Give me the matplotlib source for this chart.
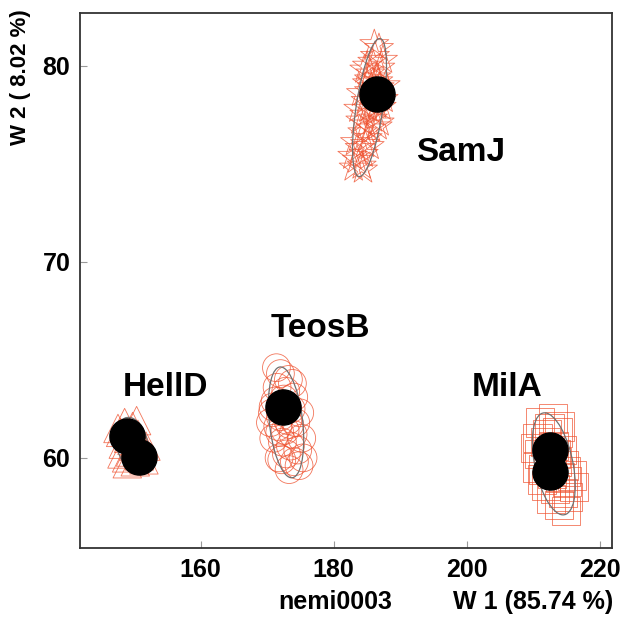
import numpy as np
import matplotlib.pyplot as plt
from matplotlib.patches import Ellipse

plt.rcParams['font.family'] = ['Liberation Sans', 'DejaVu Sans']
plt.rcParams['font.weight'] = 'bold'

# --- cluster clouds (W1, W2) ---
samj_x = [186.8, 186.2, 185.8, 187.0, 185.5, 186.4, 185.0, 186.9, 185.3, 186.0,
          184.8, 186.5, 185.2, 184.6, 185.9, 184.9, 185.6, 184.3, 185.1, 184.7,
          183.9, 184.5, 183.5, 184.2, 185.4, 186.2, 184.0, 186.7, 185.7, 184.4,
          187.4, 187.8, 183.2, 182.8, 186.1, 185.0, 187.2, 184.1, 186.6, 183.7,
          185.3, 186.9, 184.6, 187.5, 183.0]
samj_y = [80.9, 80.5, 80.2, 79.9, 79.6, 79.4, 79.1, 78.9, 78.7, 78.4,
          78.2, 78.0, 77.8, 77.5, 77.3, 77.0, 76.8, 76.6, 76.3, 76.0,
          75.8, 75.5, 75.2, 74.9, 75.9, 77.6, 77.2, 79.2, 78.9, 74.7,
          80.3, 79.0, 76.1, 75.4, 81.1, 80.0, 77.9, 78.6, 76.9, 77.8,
          79.3, 77.1, 79.8, 78.3, 74.8]

teosb_x = [172.0, 173.2, 171.5, 172.8, 174.0, 171.2, 172.4, 173.6, 170.8, 172.0,
           173.1, 174.3, 171.6, 172.7, 173.9, 171.0, 172.3, 173.5, 174.6, 172.9,
           171.8, 174.1, 173.4, 172.5, 171.9, 173.0, 174.8, 170.5, 175.2, 171.4,
           173.8, 172.2, 174.9, 170.9, 173.3, 175.4]
teosb_y = [64.3, 64.0, 63.6, 63.4, 63.1, 62.9, 62.7, 62.5, 62.3, 62.1,
           61.9, 61.8, 61.6, 61.4, 61.2, 61.0, 60.8, 60.6, 60.4, 60.2,
           60.0, 59.8, 61.7, 63.0, 61.3, 62.6, 59.6, 61.8, 61.0, 64.6,
           63.8, 59.9, 62.3, 62.6, 59.4, 60.0]

helld_x = [148.6, 149.8, 148.0, 150.6, 149.2, 148.4, 150.0, 151.2, 149.5, 150.8,
           148.9, 151.5, 150.2, 149.7, 151.0, 147.6, 148.2, 150.4, 151.8, 149.0]
helld_y = [61.8, 61.6, 61.3, 61.2, 61.0, 60.7, 60.6, 60.5, 60.3, 60.1,
           60.0, 59.9, 59.8, 60.9, 60.8, 61.5, 60.2, 61.9, 60.6, 59.7]

mila_x = [211.0, 212.4, 213.6, 210.6, 211.8, 213.0, 214.2, 210.9, 212.2, 213.5,
          214.6, 211.5, 212.8, 214.0, 215.0, 211.9, 213.2, 214.4, 212.6, 213.8,
          215.2, 212.0, 213.3, 214.8, 210.2, 215.8, 211.3, 214.9, 212.9, 216.1,
          210.5, 213.9]
mila_y = [61.8, 61.5, 61.3, 61.0, 60.8, 60.6, 60.4, 60.2, 60.0, 59.8,
          59.6, 59.4, 59.2, 59.0, 58.8, 58.6, 58.4, 58.2, 57.9, 57.6,
          58.0, 61.2, 60.2, 59.3, 60.5, 59.1, 58.9, 57.3, 62.0, 58.5,
          59.5, 61.6]

# --- black reference points ---
ref_x = [186.5, 172.4, 149.0, 150.7, 212.5, 212.5]
ref_y = [78.55, 62.6, 61.1, 60.05, 60.4, 59.3]

# --- group labels ---
label_names = ['SamJ', 'TeosB', 'HellD', 'MilA']
label_x = [199.0, 178.0, 154.8, 206.0]
label_y = [75.6, 66.6, 63.6, 63.6]

cloud_color = '#ef5230'


def conf_ellipse(ax, x, y, n_std=2.0):
    cov = np.cov(x, y)
    vals, vecs = np.linalg.eigh(cov)
    order = vals.argsort()[::-1]
    vals, vecs = vals[order], vecs[:, order]
    angle = np.degrees(np.arctan2(vecs[1, 0], vecs[0, 0]))
    w, h = 2 * n_std * np.sqrt(vals)
    ell = Ellipse((np.mean(x), np.mean(y)), w, h, angle=angle,
                  facecolor='none', edgecolor='#707070', linewidth=0.9, zorder=3)
    ax.add_patch(ell)


fig = plt.figure(figsize=(6.27, 6.19), dpi=100)
ax = fig.add_axes([0.1276, 0.1147, 0.8485, 0.8643])

clouds = [(samj_x, samj_y, '*', 480),
          (teosb_x, teosb_y, 'o', 400),
          (helld_x, helld_y, '^', 420),
          (mila_x, mila_y, 's', 420)]
for cx, cy, mk, sz in clouds:
    ax.scatter(cx, cy, s=sz, marker=mk, facecolors='none',
               edgecolors=cloud_color, linewidths=0.6, alpha=0.8, zorder=2)
    conf_ellipse(ax, np.array(cx), np.array(cy))

ax.scatter(ref_x, ref_y, s=640, color='black', zorder=4)

for name, lx, ly in zip(label_names, label_x, label_y):
    ax.text(lx, ly, name, fontsize=24, fontweight='bold', ha='center', va='center')

ax.set_xlim(141.9, 221.8)
ax.set_ylim(55.4, 82.7)
ax.set_xticks([160, 180, 200, 220])
ax.set_yticks([60, 70, 80])
ax.tick_params(direction='in', length=5, color='#999999', labelsize=18, pad=7)
for lab in ax.get_xticklabels() + ax.get_yticklabels():
    lab.set_fontweight('bold')
for sp in ax.spines.values():
    sp.set_color('#333333')
    sp.set_linewidth(1.3)

fig.text(0.033, 0.985, 'W 2 ( 8.02 %)', rotation=90, ha='center', va='top',
         fontsize=16, fontweight='bold')
fig.text(0.978, 0.008, 'W 1 (85.74 %)', ha='right', va='bottom',
         fontsize=18, fontweight='bold')
fig.text(0.535, 0.008, 'nemi0003', ha='center', va='bottom',
         fontsize=18, fontweight='bold')

fig.savefig('out.png', dpi=100)
